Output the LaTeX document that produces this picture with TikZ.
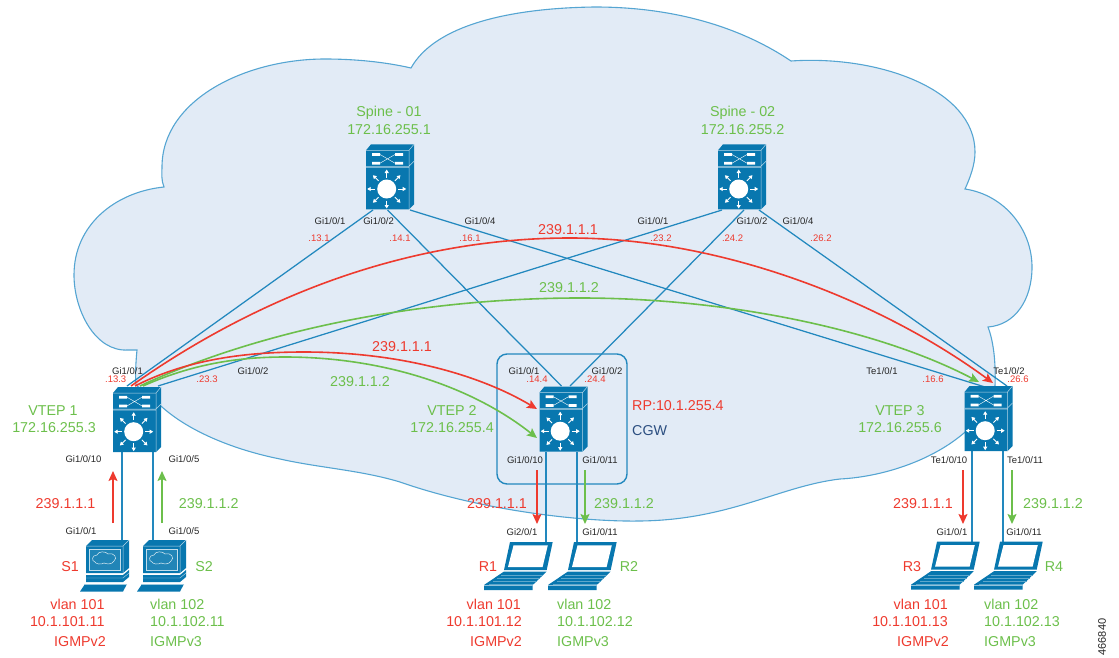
\documentclass[tikz,border=0pt]{standalone}
\usepackage{fontspec}
\setmainfont{Liberation Sans}
\usetikzlibrary{arrows.meta}
\definecolor{cred}{HTML}{EE3A2E}
\definecolor{cgrn}{HTML}{6CBF4B}
\definecolor{cblu}{HTML}{2288BE}
\definecolor{cdev}{HTML}{0877AF}
\definecolor{cfil}{HTML}{E2EBF6}
\definecolor{cstk}{HTML}{55A5D2}
\definecolor{cnav}{HTML}{2B4E80}
\tikzset{
 big/.style={font=\fontsize{14.3}{14}\selectfont,inner sep=0pt},
 redt/.style={big,text=cred},
 grnt/.style={big,text=cgrn},
 port/.style={font=\fontsize{9.5}{10}\selectfont,inner sep=0pt,text=black!85},
 ipad/.style={font=\fontsize{9.5}{10}\selectfont,inner sep=0pt,text=cred},
 link/.style={draw=cblu,line width=1.25pt},
 redarrow/.style={draw=cred,line width=1.6pt,-{Stealth[length=10pt,width=9pt,inset=2pt]}},
 grnarrow/.style={draw=cgrn,line width=1.6pt,-{Stealth[length=10pt,width=9pt,inset=2pt]}},
 switchgfx/.pic={
  \fill[cdev] (0,6)--(5,0)--(48,0)--(48,60)--(43,65)--(0,65)--cycle;
  \draw[white!70!cdev,line width=.5pt] (0,6)--(43,6)--(48,0) (43,6)--(43,65) (0,22)--(43,22)--(48,17) (0,23.2)--(43,23.2);
  \fill[white] (6,8.8) rectangle (14,11.6) (6,17.5) rectangle (14,20.3) (29,8.8) rectangle (37,11.6) (29,17.5) rectangle (37,20.3);
  \draw[white,line width=.4pt] (14,10.2)--(29,18.9) (14,18.9)--(29,10.2);
  \fill[white] (20.7,44.7) circle (9.5);
  \foreach \a in {0,45,...,315}
   \draw[white,line width=.9pt,-{Triangle[length=3.5pt,width=4pt]}] (20.7,44.7)+(\a:11.5) -- +(\a:19.5);
 },
 pcgfx/.pic={
  \fill[cdev] (6,6)--(12,0)--(49,0)--(49,28)--(43,33)--(6,33)--cycle;
  \draw[white!70!cdev,line width=.5pt] (6,6)--(43,6)--(49,0) (43,6)--(43,33);
  \fill[cdev!90!white] (9,9) rectangle (40,30);
  \draw[white!75!cdev,line width=.4pt] (9,9) rectangle (40,30);
  \draw[white!85!cdev,line width=.5pt] (15,22) .. controls (11,21) and (12,15) .. (17,15) .. controls (18,11) and (26,11) .. (28,14) .. controls (34,12) and (38,18) .. (34,21) .. controls (32,25) and (26,24) .. (24,23) .. controls (21,25) and (16,24) .. (15,22) -- cycle;
  \fill[cdev] (6,35) -- (43,35) -- (49,30) -- (49,37) -- (43,42) -- (6,42) -- cycle;
  \draw[white!70!cdev,line width=.4pt] (6,38)--(43,38)--(49,33);
  \fill[cdev] (0,51.5) -- (5,44) -- (47,44) -- (43,51.5) -- cycle;
  \draw[white!60!cdev,line width=.4pt] (5,44)--(47,44);
 },
 laptopgfx/.pic={
  \fill[cdev] (26,0)--(68.7,0)--(62.7,28)--(20,28)--cycle;
  \fill[white] (29.5,3.3)--(63.8,3.3)--(58.6,25)--(24,25)--cycle;
  \fill[cdev] (20,29.5)--(62.7,29.5)--(48.7,43)--(48.7,48)--(0,48)--(0,43)--cycle;
  \draw[white!35!cdev,line width=.3pt] (17,33)--(59,33) (13,36)--(56,36) (9,39)--(53,39) (5,42)--(49,42);
  \draw[white!55!cdev,line width=.35pt] (0,43.5)--(48.7,43.5);
 }
}
\begin{document}
\begin{tikzpicture}[x=1pt,y=-1pt]
\useasboundingbox (0,0) rectangle (1119,658);
% cloud
\draw[fill=cfil,draw=cstk,line width=1.1pt]
 (411,68) .. controls (435,25) and (510,8) .. (595,7)
 .. controls (680,7) and (745,30) .. (791,61)
 .. controls (880,55) and (975,90) .. (975,152)
 .. controls (975,165) and (970,178) .. (965,189)
 .. controls (1005,195) and (1032,230) .. (1032,267)
 .. controls (1032,300) and (1015,325) .. (988,327)
 .. controls (993,340) and (996,360) .. (995,386)
 .. controls (995,400) and (975,425) .. (964,433)
 .. controls (930,462) and (880,477) .. (840,479)
 .. controls (780,486) and (730,520) .. (640,521)
 .. controls (580,522) and (480,510) .. (400,482)
 .. controls (360,470) and (320,468) .. (280,459)
 .. controls (235,450) and (190,432) .. (162,407)
 -- (136,385) .. controls (135,375) and (136,360) .. (137,350)
 -- (128,350) .. controls (95,352) and (74,310) .. (74,275)
 .. controls (74,225) and (115,192) .. (164,187)
 .. controls (161,180) and (162,173) .. (162,167)
 .. controls (162,100) and (245,59) .. (325,59)
 .. controls (355,59) and (385,62) .. (411,68) -- cycle;
% CGW frame
\node[draw=cblu,line width=1.4pt,rounded corners=10pt,minimum width=130pt,minimum height=130pt,inner sep=0pt] (cgwbox) at (562,419) {};
% named ends
\coordinate (s1a) at (373,210); \coordinate (s1b) at (387.5,210); \coordinate (s1c) at (410,210);
\coordinate (s2a) at (722,210); \coordinate (s2b) at (744,210); \coordinate (s2c) at (759,210);
\coordinate (v1a) at (127,386); \coordinate (v1b) at (158,386); \coordinate (v1r) at (131,386); \coordinate (v1g) at (140,386); \coordinate (v1rr) at (135,386); \coordinate (v1gg) at (143,386);
\coordinate (v1c) at (122,452); \coordinate (v1d) at (153,452);
\coordinate (v2a) at (561.5,386); \coordinate (v2b) at (570,386); \coordinate (v2c) at (546,452); \coordinate (v2d) at (577,452);
\coordinate (v2r) at (537,409); \coordinate (v2g) at (537,438);
\coordinate (v3a) at (985,387); \coordinate (v3b) at (1007,386); \coordinate (v3c) at (972,451); \coordinate (v3d) at (1003,451);
\coordinate (v3r) at (993,383); \coordinate (v3g) at (979,382);
\coordinate (pc1) at (122,541); \coordinate (pc2) at (153,541);
\coordinate (lp1) at (546,542); \coordinate (lp2) at (577,542); \coordinate (lp3) at (972,542); \coordinate (lp4) at (1003,542);
\coordinate (ra1s) at (113,523); \coordinate (ra1e) at (113,471);
\coordinate (ga1s) at (162,523); \coordinate (ga1e) at (162,471);
\coordinate (ra2s) at (537,470); \coordinate (ra2e) at (537,524);
\coordinate (ga2s) at (585,470); \coordinate (ga2e) at (585,524);
\coordinate (ra3s) at (963,470); \coordinate (ra3e) at (963,524);
\coordinate (ga3s) at (1012,470); \coordinate (ga3e) at (1012,524);
% links
\draw[link] (s1a) -- (v1a);
\draw[link] (s1b) -- (v2a);
\draw[link] (s1c) -- (v3a);
\draw[link] (s2a) -- (v1b);
\draw[link] (s2b) -- (v2b);
\draw[link] (s2c) -- (v3b);
\draw[link] (v1c) -- (pc1);
\draw[link] (v1d) -- (pc2);
\draw[link] (v2c) -- (lp1);
\draw[link] (v2d) -- (lp2);
\draw[link] (v3c) -- (lp3);
\draw[link] (v3d) -- (lp4);
% multicast flows
\draw[redarrow] (v1r) .. controls (270,288) and (420,238) .. (570,238) .. controls (720,238) and (880,300) .. (v3r);
\draw[grnarrow] (v1g) .. controls (260,330) and (420,298) .. (580,298) .. controls (730,298) and (880,330) .. (v3g);
\draw[redarrow] (v1rr) .. controls (190,358) and (250,352) .. (304,352) .. controls (400,352) and (480,375) .. (v2r);
\draw[grnarrow] (v1gg) .. controls (190,365) and (235,357) .. (285,357) .. controls (380,357) and (470,385) .. (v2g);
\draw[redarrow] (ra1s) -- (ra1e);
\draw[grnarrow] (ga1s) -- (ga1e);
\draw[redarrow] (ra2s) -- (ra2e);
\draw[grnarrow] (ga2s) -- (ga2e);
\draw[redarrow] (ra3s) -- (ra3e);
\draw[grnarrow] (ga3s) -- (ga3e);
% devices
\pic at (366,144.3) {switchgfx};
\pic at (718,144.3) {switchgfx};
\pic at (113,387) {switchgfx};
\pic at (539.5,386.5) {switchgfx};
\pic at (964.5,386) {switchgfx};
\pic at (80,540) {pcgfx};
\pic at (137,540) {pcgfx};
\pic at (484,542) {laptopgfx};
\pic at (548,542) {laptopgfx};
\pic at (911,541.7) {laptopgfx};
\pic at (974,541.7) {laptopgfx};
% device names
\node[grnt] (n1) at (389,112.7) {Spine - 01};
\node[grnt] (n2) at (389,130) {172.16.255.1};
\node[grnt] (n3) at (742.6,112.7) {Spine - 02};
\node[grnt] (n4) at (742.6,130) {172.16.255.2};
\node[grnt] (n5) at (53,411) {VTEP 1};
\node[grnt] (n6) at (54,428) {172.16.255.3};
\node[grnt] (n7) at (452,411) {VTEP 2};
\node[grnt] (n8) at (452,428) {172.16.255.4};
\node[grnt] (n9) at (900,411) {VTEP 3};
\node[grnt] (n10) at (900,428) {172.16.255.6};
\node[redt,anchor=west] (n11) at (632,406) {RP:10.1.255.4};
\node[big,text=cnav,anchor=west] (n12) at (632,431) {CGW};
% spine ports
\node[port] (p1) at (330,221) {Gi1/0/1};
\node[port] (p2) at (378.6,221) {Gi1/0/2};
\node[port] (p3) at (480,221) {Gi1/0/4};
\node[ipad] (i1) at (319,238) {.13.1};
\node[ipad] (i2) at (400,238) {.14.1};
\node[ipad] (i3) at (470,238) {.16.1};
\node[port] (p4) at (653,221) {Gi1/0/1};
\node[port] (p5) at (752,221) {Gi1/0/2};
\node[port] (p6) at (798,221) {Gi1/0/4};
\node[ipad] (i4) at (661,238) {.23.2};
\node[ipad] (i5) at (732.6,238) {.24.2};
\node[ipad] (i6) at (821,238) {.26.2};
% vtep ports
\node[port] (p7) at (127.5,371) {Gi1/0/1};
\node[ipad] (i7) at (115.7,379) {.13.3};
\node[ipad] (i8) at (207,379) {.23.3};
\node[port] (p8) at (253,371) {Gi1/0/2};
\node[port] (p9) at (524,371) {Gi1/0/1};
\node[ipad] (i9) at (537,379) {.14.4};
\node[port] (p10) at (607,371) {Gi1/0/2};
\node[ipad] (i10) at (595,379) {.24.4};
\node[port] (p11) at (882,371) {Te1/0/1};
\node[ipad] (i11) at (933,379) {.16.6};
\node[port] (p12) at (1009,371) {Te1/0/2};
\node[ipad] (i12) at (1018,379) {.26.6};
\node[port] (p13) at (83.5,459.5) {Gi1/0/10};
\node[port] (p14) at (184,459.5) {Gi1/0/5};
\node[port] (p15) at (81,531) {Gi1/0/1};
\node[port] (p16) at (184,531) {Gi1/0/5};
\node[port] (p17) at (525,460) {Gi1/0/10};
\node[port] (p18) at (600,460) {Gi1/0/11};
\node[port] (p19) at (522,532) {Gi2/0/1};
\node[port] (p20) at (600,532) {Gi1/0/11};
\node[port] (p21) at (949,460) {Te1/0/10};
\node[port] (p22) at (1025,460) {Te1/0/11};
\node[port] (p23) at (952,532) {Gi1/0/1};
\node[port] (p24) at (1024,532) {Gi1/0/11};
% flow labels
\node[redt] (f1) at (568,230) {239.1.1.1};
\node[grnt] (f2) at (569,288) {239.1.1.2};
\node[redt] (f3) at (402,347) {239.1.1.1};
\node[grnt] (f4) at (360,382) {239.1.1.2};
\node[redt] (f5) at (65.5,504) {239.1.1.1};
\node[grnt] (f6) at (208.7,504) {239.1.1.2};
\node[redt] (f7) at (497,504) {239.1.1.1};
\node[grnt] (f8) at (624,504) {239.1.1.2};
\node[redt] (f9) at (923,504) {239.1.1.1};
\node[grnt] (f10) at (1053,504) {239.1.1.2};
% hosts
\node[redt] (h1) at (70,567) {S1};
\node[grnt] (h2) at (204,567) {S2};
\node[redt] (h3) at (488,567) {R1};
\node[grnt] (h4) at (629,567) {R2};
\node[redt] (h5) at (912,567) {R3};
\node[grnt] (h6) at (1054,567) {R4};
\node[redt,anchor=east] (a1) at (104.7,604) {vlan 101};
\node[redt,anchor=east] (a2) at (104.7,622) {10.1.101.11};
\node[redt,anchor=east] (a3) at (106,642) {IGMPv2};
\node[grnt,anchor=west] (b1) at (150,604) {vlan 102};
\node[grnt,anchor=west] (b2) at (150,622) {10.1.102.11};
\node[grnt,anchor=west] (b3) at (150,642) {IGMPv3};
\node[redt,anchor=east] (a4) at (521,604) {vlan 101};
\node[redt,anchor=east] (a5) at (522,622) {10.1.101.12};
\node[redt,anchor=east] (a6) at (522,642) {IGMPv2};
\node[grnt,anchor=west] (b4) at (557,604) {vlan 102};
\node[grnt,anchor=west] (b5) at (557,622) {10.1.102.12};
\node[grnt,anchor=west] (b6) at (557,642) {IGMPv3};
\node[redt,anchor=east] (a7) at (948,604) {vlan 101};
\node[redt,anchor=east] (a8) at (948,622) {10.1.101.13};
\node[redt,anchor=east] (a9) at (949,642) {IGMPv2};
\node[grnt,anchor=west] (b7) at (984,604) {vlan 102};
\node[grnt,anchor=west] (b8) at (984,622) {10.1.102.13};
\node[grnt,anchor=west] (b9) at (984,642) {IGMPv3};
\node[font=\fontsize{11}{11}\selectfont,inner sep=0pt,rotate=90,text=black!85] (fig) at (1102,637) {466840};
\end{tikzpicture}
\end{document}
